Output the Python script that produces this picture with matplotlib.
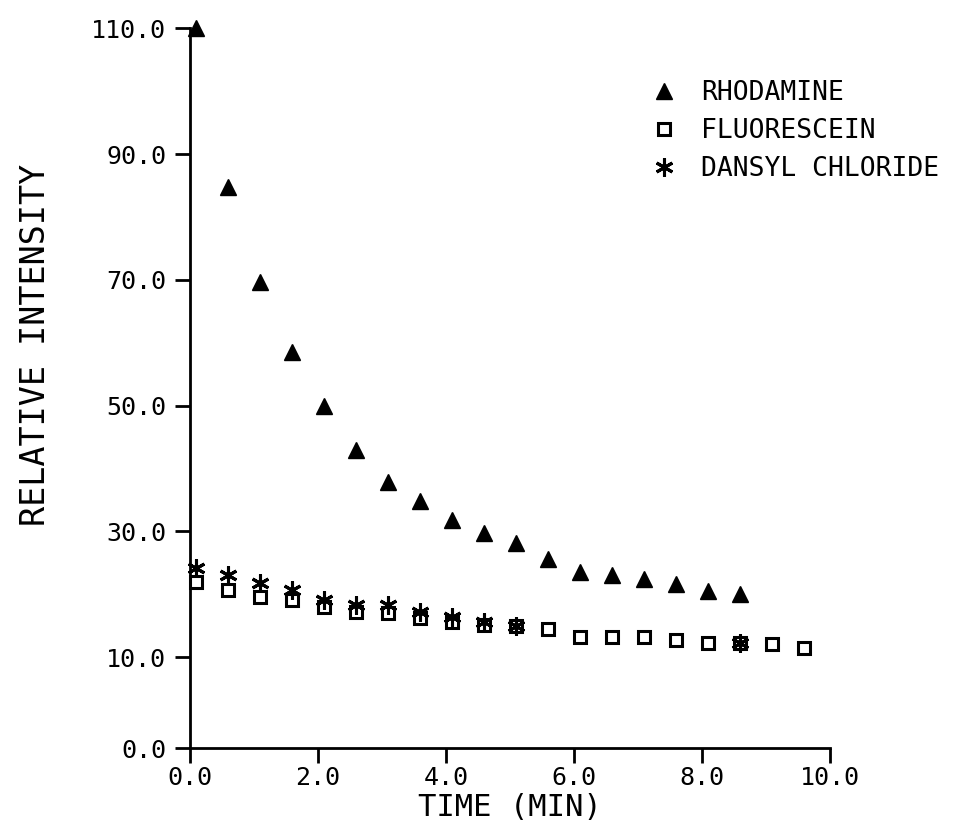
import matplotlib
matplotlib.use("Agg")
import matplotlib.pyplot as plt

# values
rhod_time = [0.1, 0.6, 1.1, 1.6, 2.1, 2.6, 3.1, 3.6, 4.1, 4.6, 5.1, 5.6, 6.1, 6.6, 7.1, 7.6, 8.1, 8.6]
rhod_int = [110.0, 84.7, 69.6, 58.5, 49.9, 42.9, 37.8, 34.8, 31.8, 29.7, 28.1, 25.6, 23.5, 23.0, 22.4, 21.6, 20.5, 20.0]

fluo_time = [0.1, 0.6, 1.1, 1.6, 2.1, 2.6, 3.1, 3.6, 4.1, 4.6, 5.1, 5.6, 6.1, 6.6, 7.1, 7.6, 8.1, 8.6, 9.1, 9.6]
fluo_int = [22.0, 20.7, 19.5, 19.1, 18.0, 17.2, 17.0, 16.2, 15.6, 15.1, 14.9, 14.4, 13.2, 13.2, 13.2, 12.7, 12.2, 12.2, 12.1, 11.4]

dans_time = [0.1, 0.6, 1.1, 1.6, 2.1, 2.6, 3.1, 3.6, 4.1, 4.6, 5.1, 8.6]
dans_int = [24.1, 23.0, 21.8, 20.7, 19.1, 18.3, 18.2, 17.2, 16.4, 15.5, 15.0, 12.3]

x_ticks = [0.0, 2.0, 4.0, 6.0, 8.0, 10.0]
y_ticks = [10.0, 30.0, 50.0, 70.0, 90.0, 110.0]
y_break = -4.5  # the axis is broken below 10, origin drawn here and labelled 0.0

font = "DejaVu Sans Mono"
plt.rcParams["font.family"] = font

fig = plt.figure(figsize=(9.73, 8.35), dpi=100)
ax = fig.add_axes([0.195, 0.104, 0.658, 0.862])

ax.plot(rhod_time, rhod_int, linestyle="none", marker="^", markersize=11,
        color="black", label="RHODAMINE", clip_on=False)
ax.plot(fluo_time, fluo_int, linestyle="none", marker="s", markersize=9,
        markerfacecolor="white", markeredgecolor="black", markeredgewidth=2.2,
        label="FLUORESCEIN", clip_on=False)
ax.plot(dans_time, dans_int, linestyle="none", marker=(6, 2, 0), markersize=13,
        color="black", markeredgewidth=2.2, label="DANSYL CHLORIDE", clip_on=False)

ax.set_xlim(0, 10)
ax.set_ylim(y_break, 110)
ax.set_xticks(x_ticks)
ax.set_xticklabels(["%.1f" % v for v in x_ticks])
ax.set_yticks([y_break] + y_ticks)
ax.set_yticklabels(["0.0"] + ["%.1f" % v for v in y_ticks])

for side in ["top", "right"]:
    ax.spines[side].set_visible(False)
for side in ["left", "bottom"]:
    ax.spines[side].set_linewidth(2.0)

ax.tick_params(axis="both", direction="out", length=11, width=2.0, labelsize=18)
ax.tick_params(axis="x", pad=2)
ax.tick_params(axis="y", pad=6)

ax.set_xlabel("TIME (MIN)", fontsize=22, labelpad=2)
ax.set_ylabel("RELATIVE INTENSITY", fontsize=24)
ax.yaxis.set_label_coords(-0.215, 0.56)

ax.legend(loc="upper left", bbox_to_anchor=(0.655, 0.92), bbox_transform=fig.transFigure,
          frameon=False, fontsize=19, handlelength=1.0, handletextpad=0.9,
          labelspacing=0.45, borderpad=0)

fig.savefig("out.png", dpi=100)
